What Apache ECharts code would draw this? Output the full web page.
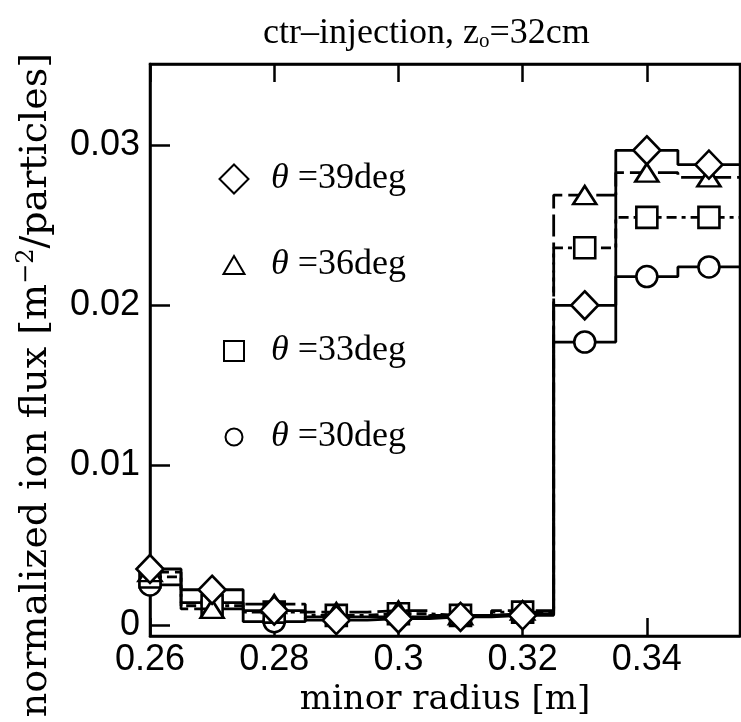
<!DOCTYPE html>
<html><head><meta charset="utf-8">
<script src="https://cdn.jsdelivr.net/npm/echarts@6/dist/echarts.min.js"></script>
<style>html,body{margin:0;padding:0;background:#fff}#c{width:741px;height:722px}</style>
</head><body><div id="c"></div>
<script>
// minor radius bin centres [m]
const radius = [0.26, 0.27, 0.28, 0.29, 0.30, 0.31, 0.32, 0.33, 0.34, 0.35];
// normalized ion flux [m^-2/particles]
const flux39 = [0.0035, 0.0022, 0.0009, 0.0003, 0.0004, 0.0005, 0.0006, 0.0200, 0.0297, 0.0288];
const flux36 = [0.0033, 0.0010, 0.0013, 0.0008, 0.0009, 0.0006, 0.0009, 0.0269, 0.0283, 0.0280];
const flux33 = [0.0030, 0.0012, 0.0008, 0.0006, 0.0007, 0.0006, 0.0008, 0.0236, 0.0255, 0.0255];
const flux30 = [0.0025, 0.0014, 0.0002, 0.0005, 0.0005, 0.0006, 0.0007, 0.0177, 0.0218, 0.0224];
const seriesNames = ['39', '36', '33', '30'];
const xTickValues = [0.26, 0.28, 0.30, 0.32, 0.34];
const yTickValues = [0, 0.01, 0.02, 0.03];
const binHalf = 0.005;

const SERIF = 'DejaVu Serif';
const LSERIF = 'Liberation Serif';
const SANS = 'Liberation Sans';

function stepData(vals) {
  const d = [{ value: [radius[0] - binHalf, vals[0]], symbol: 'none' }];
  radius.forEach((r, i) => d.push([r, vals[i]]));
  d.push({ value: [radius[radius.length - 1] + binHalf, vals[vals.length - 1]], symbol: 'none' });
  return d;
}
function mkSeries(name, vals, symbol, size, lineType, z) {
  return {
    name: name, type: 'line', step: 'middle', data: stepData(vals),
    symbol: symbol, symbolSize: size, showAllSymbol: true,
    lineStyle: { color: '#000', width: 2.8, type: lineType },
    itemStyle: { color: '#fff', borderColor: '#000', borderWidth: 2.6 },
    z: z, animation: false, clip: true
  };
}
const legendItemStyle = { color: '#fff', borderColor: '#000', borderWidth: 2 };

const chart = echarts.init(document.getElementById('c'));
chart.setOption({
  animation: false,
  backgroundColor: '#fff',
  title: {
    text: '{a|ctr\u2013injection, z}{s|o}{a|=32cm}',
    left: 258, top: 11,
    textStyle: {
      rich: {
        a: { fontFamily: LSERIF, fontSize: 36, fontWeight: 'normal', color: '#000' },
        s: { fontFamily: LSERIF, fontSize: 21, fontWeight: 'normal', color: '#000', padding: [15, 0, 0, 0] }
      }
    }
  },
  grid: { left: 150, top: 64, right: 1, bottom: 79, show: true, borderColor: '#000', borderWidth: 2.5, backgroundColor: 'transparent' },
  legend: {
    orient: 'vertical', left: 213, top: 152, itemWidth: 30, itemHeight: 30, itemGap: 42,
    selectedMode: false,
    data: [
      { name: '39', icon: 'path://M0,0M30,30M15,0.5L29.5,15L15,29.5L0.5,15Z', itemStyle: legendItemStyle },
      { name: '36', icon: 'path://M0,0M30,30M15,6L25.5,24L4.5,24Z', itemStyle: legendItemStyle },
      { name: '33', icon: 'path://M0,0M30,30M5,5L25,5L25,25L5,25Z', itemStyle: legendItemStyle },
      { name: '30', icon: 'path://M0,0M30,30M6.5,15A8.5,8.5,0,1,1,23.5,15A8.5,8.5,0,1,1,6.5,15Z', itemStyle: legendItemStyle }
    ],
    formatter: function (n) { return '{th|\u03b8} =' + n + 'deg'; },
    textStyle: {
      fontFamily: LSERIF, fontSize: 36, color: '#000', lineHeight: 44, padding: [0, 0, 0, 17],
      rich: { th: { fontFamily: LSERIF, fontStyle: 'italic', fontSize: 36, color: '#000', lineHeight: 44 } }
    }
  },
  xAxis: [{
    type: 'value', min: 0.26, max: 0.355, position: 'bottom',
    name: 'minor radius [m]', nameLocation: 'middle', nameGap: 42,
    nameTextStyle: { fontFamily: SERIF, fontSize: 34, color: '#000' },
    axisLine: { show: true, onZero: false, lineStyle: { color: '#000', width: 2.5 } },
    axisTick: { show: true, inside: true, length: 18, customValues: xTickValues, lineStyle: { color: '#000', width: 2.5 } },
    axisLabel: { customValues: xTickValues, fontFamily: SANS, fontSize: 36, color: '#000', margin: 6,
      formatter: function (v) { return String(+(+v).toFixed(2)); } },
    splitLine: { show: false }
  }, {
    type: 'value', min: 0.26, max: 0.355, position: 'top',
    axisLine: { show: true, onZero: false, lineStyle: { color: '#000', width: 2.5 } },
    axisTick: { show: true, inside: true, length: 18, customValues: xTickValues, lineStyle: { color: '#000', width: 2.5 } },
    axisLabel: { show: false }, splitLine: { show: false }
  }],
  yAxis: [{
    type: 'value', min: -0.0007, max: 0.0351,
    name: '{a|normalized ion flux [m}{sup|\u22122}{a|/particles]}', nameLocation: 'middle', nameGap: 93,
    nameTextStyle: { padding: [0, 70, 0, 0],
      rich: {
        a: { fontFamily: SERIF, fontSize: 38, color: '#000' },
        sup: { fontFamily: SERIF, fontSize: 24, color: '#000', padding: [0, 0, 18, 0] }
      } },
    axisLine: { show: true, onZero: false, lineStyle: { color: '#000', width: 2.5 } },
    axisTick: { show: true, inside: true, length: 20, customValues: yTickValues, lineStyle: { color: '#000', width: 2.5 } },
    axisLabel: { customValues: yTickValues, fontFamily: SANS, fontSize: 36, color: '#000', margin: 10,
      formatter: function (v) { return String(+(+v).toFixed(2)); } },
    splitLine: { show: false }
  }],
  series: [
    mkSeries('30', flux30, 'circle', 21, 'solid', 2),
    mkSeries('33', flux33, 'rect', 21, [10, 5, 4, 5], 3),
    mkSeries('36', flux36, 'triangle', [23, 18], [22, 6], 4),
    mkSeries('39', flux39, 'diamond', [27, 28], 'solid', 5)
  ]
});
</script>
</body></html>
